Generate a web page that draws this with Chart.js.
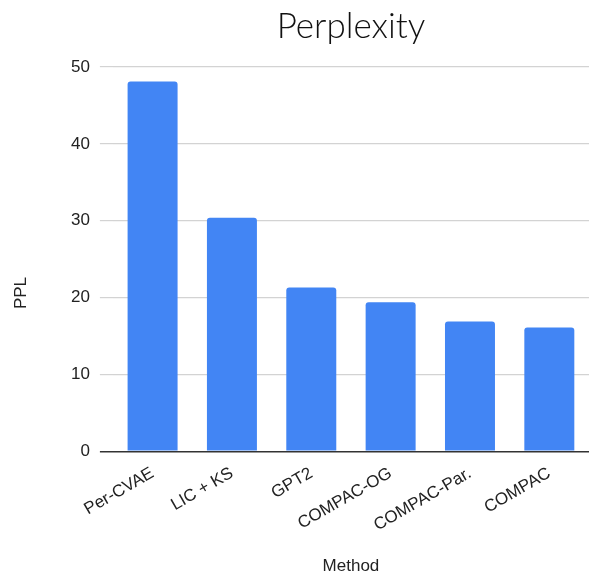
<!DOCTYPE html>
<html>
<head>
<meta charset="utf-8">
<script src="https://cdn.jsdelivr.net/npm/chart.js@4.4.1/dist/chart.umd.min.js"></script>
<style>
  html, body { margin: 0; padding: 0; background: #fff; }
</style>
</head>
<body>
<canvas id="c" width="595" height="574"></canvas>
<script>
const categories = ["Per-CVAE", "LIC + KS", "GPT2", "COMPAC-OG", "COMPAC-Par.", "COMPAC"];
const pplValues = [48.1, 30.4, 21.3, 19.4, 16.9, 16.1];
const yTicks = [0, 10, 20, 30, 40, 50];
const chartTitle = "Perplexity";
const xTitle = "Method";
const yTitle = "PPL";

const tickFont = { family: "'Liberation Sans', Arial, sans-serif", size: 17 };

const yTitlePlugin = {
  id: 'yTitlePlugin',
  afterDraw(chart) {
    const ctx = chart.ctx;
    ctx.save();
    ctx.translate(21, 293);
    ctx.rotate(-Math.PI / 2);
    ctx.font = "17px 'Liberation Sans', Arial, sans-serif";
    ctx.fillStyle = '#222';
    ctx.textAlign = 'center';
    ctx.textBaseline = 'middle';
    ctx.fillText(yTitle, 0, 0);
    ctx.restore();
  }
};

new Chart(document.getElementById('c'), {
  type: 'bar',
  data: {
    labels: categories,
    datasets: [{
      label: yTitle,
      data: pplValues,
      backgroundColor: '#4285F4',
      borderRadius: { topLeft: 3, topRight: 3, bottomLeft: 0, bottomRight: 0 },
      borderSkipped: 'bottom',
      barPercentage: 0.63,
      categoryPercentage: 1.0
    }]
  },
  options: {
    responsive: false,
    animation: false,
    devicePixelRatio: 1,
    layout: { padding: { left: 61, right: 6, top: 0, bottom: -3 } },
    plugins: {
      legend: { display: false },
      tooltip: { enabled: false },
      title: {
        display: true,
        text: chartTitle,
        fullSize: false,
        color: '#111',
        font: { family: "Lato, 'Open Sans', sans-serif", size: 35, weight: 300 },
        padding: { top: 6, bottom: 19 }
      }
    },
    scales: {
      x: {
        grid: { display: false },
        border: { display: false },
        ticks: {
          color: '#222',
          font: tickFont,
          minRotation: 30,
          maxRotation: 30,
          padding: 4
        },
        title: {
          display: true,
          text: xTitle,
          color: '#222',
          font: tickFont,
          padding: { top: 17, bottom: 0 }
        }
      },
      y: {
        min: 0,
        max: 50,
        afterBuildTicks(scale) { scale.ticks = yTicks.map(v => ({ value: v })); },
        grid: {
          color: (c) => (c.tick && c.tick.value === 0) ? '#333' : '#d3d3d3',
          tickColor: (c) => (c.tick && c.tick.value === 0) ? '#333' : '#d3d3d3',
          lineWidth: (c) => (c.tick && c.tick.value === 0) ? 1.5 : 1.2,
          tickLength: 13,
          drawTicks: true
        },
        border: { display: false },
        ticks: {
          color: '#222',
          font: tickFont,
          padding: 10
        }
      }
    }
  },
  plugins: [yTitlePlugin]
});
</script>
</body>
</html>
